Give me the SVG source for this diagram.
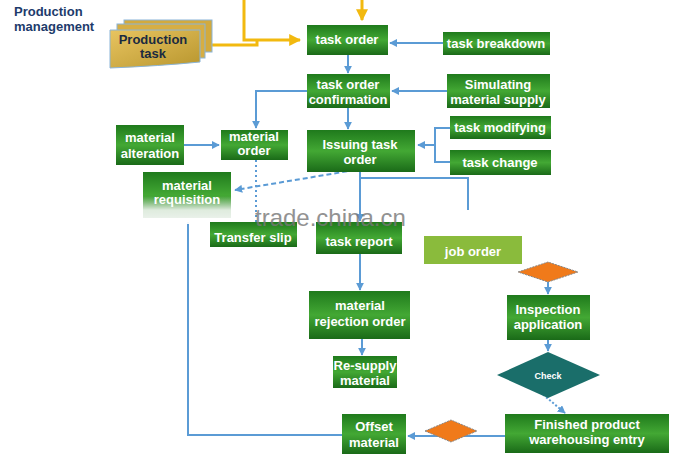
<svg xmlns="http://www.w3.org/2000/svg" width="700" height="463" viewBox="0 0 700 463">
<defs>
<linearGradient id="g" x1="0" y1="0" x2="0" y2="1"><stop offset="0" stop-color="#1f7a1c"/><stop offset="0.5" stop-color="#43a834"/><stop offset="1" stop-color="#1a6a18"/></linearGradient>
<linearGradient id="y" x1="0" y1="0" x2="1" y2="1"><stop offset="0" stop-color="#e8c460"/><stop offset="1" stop-color="#b8962e"/></linearGradient>
<linearGradient id="f" x1="0" y1="0" x2="0" y2="1"><stop offset="0" stop-color="#fff" stop-opacity="0"/><stop offset="0.5" stop-color="#fff" stop-opacity="0.85"/><stop offset="1" stop-color="#fff" stop-opacity="0.95"/></linearGradient>
<marker id="a" viewBox="0 0 10 10" refX="9" refY="5" markerWidth="4" markerHeight="4" orient="auto"><path d="M0,0L10,5L0,10z" fill="#5b9bd5"/></marker>
<marker id="ay" viewBox="0 0 10 10" refX="9" refY="5" markerWidth="4" markerHeight="4" orient="auto"><path d="M0,0L10,5L0,10z" fill="#f2b90f"/></marker>
<style>
.n{fill:url(#g)}
.t{font-family:"Liberation Sans",Arial,sans-serif;font-weight:bold;font-size:13px;fill:#fff;text-anchor:middle}
.c{fill:none;stroke:#5b9bd5;stroke-width:2}
.yl{fill:none;stroke:#f2b90f;stroke-width:3}
.d{fill:#f07a1a;stroke:#888;stroke-width:1;stroke-dasharray:2 1}
</style>
</defs>
<rect width="700" height="463" fill="#fff"/>
<text x="14" y="16" font-family="Liberation Sans,Arial,sans-serif" font-weight="bold" font-size="13" fill="#1d3b6b">Production</text>
<text x="14" y="31" font-family="Liberation Sans,Arial,sans-serif" font-weight="bold" font-size="13" fill="#1d3b6b">management</text>
<g id="connectors">
<path class="yl" d="M244,0V40H300" marker-end="url(#ay)"/>
<path class="yl" d="M210,45H257V40"/>
<path class="yl" d="M362,0V20" marker-end="url(#ay)"/>
<path class="c" d="M443,43H390" marker-end="url(#a)"/>
<path class="c" d="M348,55V73" marker-end="url(#a)"/>
<path class="c" d="M447,91H392" marker-end="url(#a)"/>
<path class="c" d="M348,108V129" marker-end="url(#a)"/>
<path class="c" d="M307,91H256V128" marker-end="url(#a)"/>
<path class="c" d="M184,145H219" marker-end="url(#a)"/>
<path class="c" d="M450,128H435V162H450M435,145H418" marker-end="url(#a)"/>
<path class="c" d="M355,170L235,190" stroke-dasharray="5 3" marker-end="url(#a)"/>
<path class="c" d="M256,160V222" stroke-dasharray="2 3"/>
<path class="c" d="M360,172V221" marker-end="url(#a)"/>
<path class="c" d="M360,178H468V210"/>
<path class="c" d="M360,254V290" marker-end="url(#a)"/>
<path class="c" d="M362,339V355" marker-end="url(#a)"/>
<path class="c" d="M548,282V294" marker-end="url(#a)"/>
<path class="c" d="M548,340V351" marker-end="url(#a)"/>
<path class="c" d="M540,392L565,413" stroke-dasharray="2 2" marker-end="url(#a)"/>
<path class="c" d="M505,436H408" marker-end="url(#a)"/>
<path class="c" d="M188,222V435H342"/>
</g>
<g id="production-task">
<rect x="124" y="20" width="88" height="32" fill="#d2aa3e" stroke="#8ab4d8"/>
<rect x="117" y="24" width="88" height="34" fill="#d6ae44" stroke="#8ab4d8"/>
<path d="M110,30H200V62Q160,66 110,68Z" fill="url(#y)" stroke="#8ab4d8"/>
<text x="153" y="44" class="t" style="fill:#1a2a40">Production</text>
<text x="153" y="58" class="t" style="fill:#1a2a40">task</text>
</g>
<g id="task-order"><rect class="n" x="307" y="25" width="81" height="30"/><text class="t" x="347" y="44">task order</text></g>
<g id="task-breakdown"><rect class="n" x="443" y="32" width="107" height="23"/><text class="t" x="496" y="48">task breakdown</text></g>
<g id="task-order-confirmation"><rect class="n" x="307" y="74" width="83" height="34"/><text class="t" x="348" y="89">task order</text><text class="t" x="348" y="104">confirmation</text></g>
<g id="simulating"><rect class="n" x="447" y="74" width="103" height="34"/><text class="t" x="498" y="89">Simulating</text><text class="t" x="498" y="104">material supply</text></g>
<g id="material-alteration"><rect class="n" x="116" y="125" width="68" height="40"/><text class="t" x="150" y="142">material</text><text class="t" x="150" y="158">alteration</text></g>
<g id="material-order"><rect class="n" x="221" y="130" width="67" height="30"/><text class="t" x="254" y="141">material</text><text class="t" x="254" y="155">order</text></g>
<g id="issuing"><rect class="n" x="307" y="130" width="108" height="42"/><text class="t" x="360" y="149">Issuing task</text><text class="t" x="360" y="164">order</text></g>
<g id="task-modifying"><rect class="n" x="450" y="116" width="101" height="23"/><text class="t" x="500" y="132">task modifying</text></g>
<g id="task-change"><rect class="n" x="450" y="150" width="101" height="25"/><text class="t" x="500" y="167">task change</text></g>
<g id="material-requisition"><rect class="n" x="143" y="172" width="88" height="46"/><text class="t" x="187" y="190">material</text><text class="t" x="187" y="204">requisition</text><rect x="138" y="196" width="97" height="28" fill="url(#f)"/></g>
<g id="transfer-slip"><rect class="n" x="210" y="222" width="87" height="25"/><text class="t" x="253" y="242">Transfer slip</text></g>
<g id="task-report"><rect class="n" x="316" y="222" width="86" height="32"/><text class="t" x="359" y="246">task report</text></g>
<g id="job-order"><rect x="424" y="236" width="98" height="28" fill="#8abb3c"/><text class="t" x="473" y="256">job order</text></g>
<g id="d1"><polygon class="d" points="518,272 548,262 578,272 548,282"/></g>
<g id="inspection"><rect class="n" x="507" y="295" width="83" height="45"/><text class="t" x="548" y="314">Inspection</text><text class="t" x="548" y="329">application</text></g>
<g id="check"><polygon points="497,375 548,352 600,375 548,398" fill="#1a6e6a"/><text class="t" x="548" y="379" style="font-size:9px">Check</text></g>
<g id="rejection"><rect class="n" x="309" y="291" width="101" height="48"/><text class="t" x="360" y="310">material</text><text class="t" x="360" y="326">rejection order</text></g>
<g id="resupply"><rect class="n" x="333" y="356" width="64" height="32"/><text class="t" x="365" y="370">Re-supply</text><text class="t" x="365" y="385">material</text></g>
<g id="finished"><rect class="n" x="505" y="414" width="164" height="39"/><text class="t" x="587" y="429">Finished product</text><text class="t" x="587" y="444">warehousing entry</text></g>
<g id="d2"><polygon class="d" points="425,431 451,420 477,431 451,442"/></g>
<g id="offset"><rect class="n" x="342" y="414" width="64" height="40"/><text class="t" x="374" y="431">Offset</text><text class="t" x="374" y="447">material</text></g>
<text x="255" y="226" font-family="Liberation Sans,Arial,sans-serif" font-size="24" fill="#777" opacity="0.8">trade.china.cn</text>
</svg>
